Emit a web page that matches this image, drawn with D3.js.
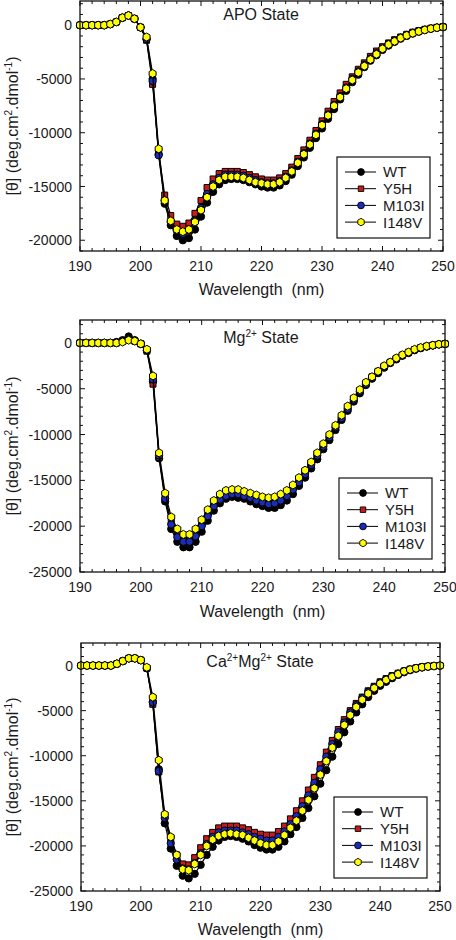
<!DOCTYPE html>
<html><head><meta charset="utf-8">
<script src="https://cdn.jsdelivr.net/npm/d3@7"></script>
<style>
body{margin:0;background:#fff}
text{font-family:Arial,"Liberation Sans",sans-serif;fill:#1a1a1a}
</style>
</head><body>
<svg id="chart" width="456" height="940"></svg>
<script>
// ---------- DATA ----------
const wavelength = [190,191,192,193,194,195,196,197,198,199,200,201,202,203,204,205,206,207,208,209,
  210,211,212,213,214,215,216,217,218,219,220,221,222,223,224,225,226,227,228,229,
  230,231,232,233,234,235,236,237,238,239,240,241,242,243,244,245,246,247,248,249,250];

const seriesNames = ["WT","Y5H","M103I","I148V"];
const seriesColors = ["#000000","#c81a1a","#1a2db8","#ffff00"];
const xTickValues = [190,200,210,220,230,240,250];
const yTicksApo = [0,-5000,-10000,-15000,-20000];
const yTicksMetal = [0,-5000,-10000,-15000,-20000,-25000];

// APO state
const apoWT = [0,0,0,0,0,100,300,700,900,600,
  -200,-1300,-5000,-12000,-16600,-18600,-19600,-20000,-19800,-19000,
  -17800,-16500,-15500,-14800,-14400,-14300,-14300,-14400,-14600,-14800,
  -15000,-15100,-15100,-14900,-14500,-13900,-13100,-12300,-11400,-10500,
  -9600,-8700,-7800,-6900,-6100,-5300,-4600,-3900,-3300,-2800,
  -2300,-1900,-1550,-1250,-1000,-780,-600,-450,-330,-240,-180];
const apoY5H = [0,0,0,0,0,100,300,700,900,600,
  -200,-1400,-5500,-11800,-15800,-17700,-18500,-18700,-18400,-17500,
  -16300,-15100,-14300,-13800,-13600,-13600,-13600,-13700,-13900,-14100,
  -14300,-14400,-14400,-14200,-13800,-13200,-12400,-11600,-10700,-9800,
  -8900,-8000,-7100,-6300,-5500,-4800,-4100,-3500,-2900,-2400,
  -2000,-1650,-1350,-1100,-850,-650,-500,-380,-280,-200,-150];
const apoM103I = [0,0,0,0,0,100,300,700,900,600,
  -200,-1300,-5200,-12100,-16300,-18300,-19100,-19400,-19100,-18200,
  -17000,-15700,-14800,-14200,-13900,-13900,-13900,-14000,-14200,-14400,
  -14600,-14700,-14700,-14500,-14100,-13500,-12700,-11900,-11000,-10100,
  -9200,-8300,-7400,-6600,-5800,-5000,-4300,-3700,-3100,-2600,
  -2150,-1750,-1450,-1150,-900,-700,-550,-420,-300,-220,-160];
const apoI148V = [0,0,0,0,0,100,300,700,900,600,
  -200,-1100,-4500,-11500,-16300,-18200,-19000,-19200,-19000,-18300,
  -17200,-16000,-15000,-14400,-14100,-14100,-14100,-14200,-14400,-14600,
  -14700,-14800,-14800,-14600,-14200,-13600,-12800,-12000,-11100,-10200,
  -9300,-8400,-7500,-6700,-5900,-5100,-4400,-3800,-3200,-2700,
  -2200,-1800,-1500,-1200,-950,-750,-580,-440,-320,-230,-170];

// Mg2+ state
const mgWT = [0,0,0,0,0,0,100,300,700,300,
  -100,-800,-4200,-12600,-17300,-20300,-21700,-22300,-22300,-21700,
  -20600,-19400,-18300,-17500,-17000,-16800,-16900,-17000,-17300,-17600,
  -17800,-18000,-18000,-17700,-17200,-16500,-15600,-14700,-13700,-12700,
  -11600,-10600,-9500,-8400,-7400,-6400,-5500,-4600,-3900,-3300,
  -2700,-2200,-1800,-1400,-1100,-800,-580,-400,-280,-170,-110];
const mgY5H = [0,0,0,0,0,0,0,200,400,200,
  -100,-900,-4500,-12500,-16800,-19500,-20700,-21200,-21200,-20600,
  -19600,-18500,-17500,-16800,-16400,-16300,-16300,-16500,-16700,-16900,
  -17100,-17300,-17200,-16900,-16400,-15800,-15000,-14100,-13100,-12100,
  -11100,-10100,-9100,-8000,-7000,-6100,-5200,-4400,-3700,-3100,
  -2550,-2100,-1700,-1330,-1020,-720,-520,-360,-250,-150,-100];
const mgM103I = [0,0,0,0,0,0,0,200,400,200,
  -100,-800,-4000,-12300,-17000,-19800,-21200,-21700,-21700,-21100,
  -20000,-18900,-17800,-17100,-16700,-16500,-16500,-16700,-16900,-17200,
  -17400,-17600,-17500,-17200,-16700,-16000,-15200,-14300,-13300,-12300,
  -11300,-10300,-9200,-8200,-7200,-6200,-5300,-4500,-3800,-3200,
  -2600,-2150,-1700,-1350,-1050,-750,-540,-380,-260,-160,-100];
const mgI148V = [0,0,0,0,0,0,0,100,300,200,
  -100,-700,-3600,-12000,-16400,-19000,-20300,-20900,-20900,-20300,
  -19300,-18200,-17200,-16500,-16100,-16000,-16000,-16200,-16400,-16600,
  -16800,-16900,-16800,-16500,-16100,-15500,-14700,-13900,-13000,-12000,
  -11000,-10000,-9000,-7900,-6900,-6000,-5100,-4300,-3700,-3100,
  -2500,-2100,-1650,-1300,-1000,-700,-500,-350,-250,-150,-100];

// Ca2+Mg2+ state
const camgWT = [0,0,0,0,0,0,200,500,800,800,
  600,-300,-4000,-11500,-17500,-20300,-22200,-23300,-23600,-23100,
  -22100,-21000,-20100,-19400,-19000,-18900,-19000,-19200,-19500,-19900,
  -20200,-20400,-20400,-20100,-19500,-18700,-17900,-16900,-15800,-14500,
  -13100,-11600,-10100,-8700,-7400,-6200,-5200,-4300,-3500,-2800,
  -2250,-1800,-1400,-1050,-750,-520,-350,-220,-130,-60,-20];
const camgY5H = [0,0,0,0,0,0,200,500,800,800,
  600,-300,-4300,-11800,-16600,-19200,-21000,-22000,-22100,-21300,
  -20200,-19200,-18500,-18000,-17800,-17800,-17800,-18000,-18200,-18500,
  -18700,-18800,-18800,-18400,-17800,-17000,-16100,-15000,-13800,-12400,
  -11000,-9600,-8300,-7100,-6000,-5000,-4200,-3500,-2800,-2300,
  -1800,-1450,-1120,-850,-600,-400,-260,-150,-80,-30,0];
const camgM103I = [0,0,0,0,0,0,200,500,800,800,
  600,-300,-4100,-11700,-16900,-19700,-21500,-22500,-22600,-21900,
  -20800,-19800,-19000,-18500,-18300,-18300,-18300,-18500,-18700,-19000,
  -19200,-19400,-19400,-19000,-18400,-17600,-16700,-15600,-14400,-13000,
  -11500,-10100,-8700,-7400,-6300,-5200,-4400,-3600,-2900,-2400,
  -1900,-1500,-1170,-890,-620,-420,-280,-160,-90,-40,0];
const camgI148V = [0,0,0,0,0,0,200,500,800,800,
  600,-200,-3500,-10500,-16500,-19000,-21000,-22600,-22700,-22000,
  -21000,-20000,-19300,-18900,-18700,-18600,-18700,-18800,-19100,-19400,
  -19700,-19900,-19900,-19500,-18800,-18000,-17200,-16100,-14900,-13600,
  -12100,-10600,-9100,-7800,-6600,-5500,-4600,-3800,-3100,-2500,
  -2000,-1600,-1250,-950,-650,-450,-300,-180,-100,-50,0];

// ---------- LAYOUT ----------
const panels = [
  {title:[["APO State",0]], series:[apoWT,apoY5H,apoM103I,apoI148V],
   yDomain:[-21000,2250], yTicks:yTicksApo, left:80, right:443, top:1, bottom:251,
   titleX:261, titleY:20, xTitleY:295},
  {title:[["Mg",0],["2+",1],[" State",0]], series:[mgWT,mgY5H,mgM103I,mgI148V],
   yDomain:[-25000,2500], yTicks:yTicksMetal, left:80, right:445, top:320, bottom:572,
   titleX:261, titleY:343, xTitleY:617},
  {title:[["Ca",0],["2+",1],["Mg",0],["2+",1],[" State",0]], series:[camgWT,camgY5H,camgM103I,camgI148V],
   yDomain:[-25000,2500], yTicks:yTicksMetal, left:81, right:440, top:643, bottom:891,
   titleX:260, titleY:667, xTitleY:935}
];

const hexagon = {draw(ctx,size){
  const r = Math.sqrt(size/(1.5*Math.sqrt(3)));
  for(let i=0;i<6;i++){const a=Math.PI/3*i+Math.PI/6;
    const px=r*Math.cos(a), py=r*Math.sin(a);
    if(i===0)ctx.moveTo(px,py);else ctx.lineTo(px,py);}
  ctx.closePath();}};
const symbolTypes = [d3.symbolCircle, d3.symbolSquare, d3.symbolCircle, hexagon];

const svg = d3.select("#chart");

function addSupText(sel, parts, supSize){
  parts.forEach(([t,sup],i)=>{
    const prevSup = i>0 && parts[i-1][1];
    const ts = sel.append("tspan").text(t);
    if(sup){ ts.attr("font-size",supSize).attr("dy",-6); }
    else if(prevSup){ ts.attr("dy",6); }
  });
}

panels.forEach(p=>{
  const x = d3.scaleLinear().domain([190,250]).range([p.left,p.right]);
  const y = d3.scaleLinear().domain(p.yDomain).range([p.bottom,p.top]);
  const g = svg.append("g");

  // ticks (inward, all four sides)
  const xMinor = d3.range(190,251,2);
  const yMinor = d3.range(Math.ceil(p.yDomain[0]/1000)*1000, p.yDomain[1]+1, 1000);
  const tk = g.append("g").attr("stroke","#111").attr("stroke-width",1);
  xMinor.forEach(v=>{
    const L = (v%10===0)?5:3;
    tk.append("line").attr("x1",x(v)).attr("x2",x(v)).attr("y1",p.bottom).attr("y2",p.bottom-L);
    tk.append("line").attr("x1",x(v)).attr("x2",x(v)).attr("y1",p.top).attr("y2",p.top+L);
  });
  yMinor.forEach(v=>{
    const L = (v%5000===0)?5:3;
    tk.append("line").attr("x1",p.left).attr("x2",p.left+L).attr("y1",y(v)).attr("y2",y(v));
    tk.append("line").attr("x1",p.right).attr("x2",p.right-L).attr("y1",y(v)).attr("y2",y(v));
  });

  // series
  const line = d3.line().x((d,i)=>x(wavelength[i])).y(d=>y(d));
  p.series.forEach((vals,si)=>{
    const sg = g.append("g");
    sg.append("path").datum(vals).attr("d",line).attr("fill","none").attr("stroke","#000").attr("stroke-width",1.2);
    sg.selectAll("path.m").data(vals).join("path").attr("class","m")
      .attr("transform",(d,i)=>`translate(${x(wavelength[i])},${y(d)})`)
      .attr("d",d3.symbol().type(symbolTypes[si]).size(si===1?36:42))
      .attr("fill",seriesColors[si]).attr("stroke","#000").attr("stroke-width",1);
  });

  // frame
  g.append("rect").attr("x",p.left).attr("y",p.top).attr("width",p.right-p.left).attr("height",p.bottom-p.top)
    .attr("fill","none").attr("stroke","#111").attr("stroke-width",1.3);

  // tick labels
  xTickValues.forEach(v=>{
    g.append("text").attr("x",x(v)).attr("y",p.bottom+20).attr("text-anchor","middle")
      .attr("font-size",14).text(v);
  });
  p.yTicks.forEach(v=>{
    g.append("text").attr("x",p.left-8).attr("y",y(v)).attr("dy","0.36em").attr("text-anchor","end")
      .attr("font-size",14).text(String(v));
  });

  // axis titles
  g.append("text").attr("x",(p.left+p.right)/2).attr("y",p.xTitleY).attr("text-anchor","middle")
    .attr("font-size",16).attr("xml:space","preserve").text("Wavelength  (nm)");
  const yl = g.append("text").attr("transform",`translate(18,${(p.top+p.bottom)/2}) rotate(-90)`)
    .attr("text-anchor","middle").attr("font-size",16);
  addSupText(yl,[["[θ] (deg.cm",0],["2",1],[".dmol",0],["-1",1],[")",0]],10);

  // panel title
  const tt = g.append("text").attr("x",p.titleX).attr("y",p.titleY).attr("text-anchor","middle").attr("font-size",16);
  addSupText(tt,p.title,10);

  // legend
  const lx = p.right-13-93, ly = p.bottom-13-81;
  const lg = g.append("g").attr("transform",`translate(${lx},${ly})`);
  lg.append("rect").attr("width",93).attr("height",81).attr("fill","#fff").attr("stroke","#111").attr("stroke-width",1.2);
  seriesNames.forEach((n,i)=>{
    const yy = 15 + i*16.7;
    lg.append("line").attr("x1",8).attr("x2",39).attr("y1",yy).attr("y2",yy).attr("stroke","#000").attr("stroke-width",1);
    lg.append("path").attr("transform",`translate(24,${yy})`)
      .attr("d",d3.symbol().type(symbolTypes[i]).size(i===1?30:36))
      .attr("fill",seriesColors[i]).attr("stroke","#000").attr("stroke-width",0.9);
    lg.append("text").attr("x",46).attr("y",yy).attr("dy","0.36em").attr("font-size",15).text(n);
  });
});
</script>
</body></html>
